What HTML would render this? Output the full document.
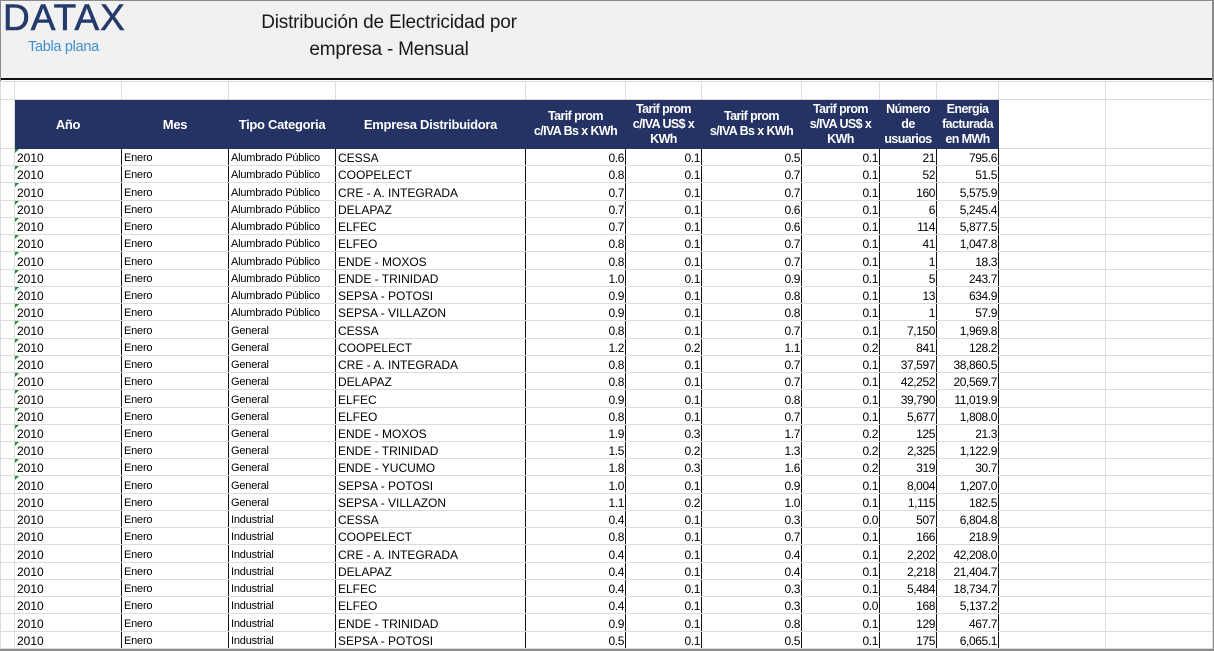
<!DOCTYPE html>
<html><head><meta charset="utf-8">
<style>
*{margin:0;padding:0;box-sizing:border-box}
body{width:1214px;height:651px;overflow:hidden;background:#fff;font-family:"Liberation Sans",sans-serif;position:relative}
#frame{position:absolute;left:0;top:0;width:1214px;height:651px;border:1px solid #8a8a8a;border-right:2px solid #8a8a8a;border-bottom:2px solid #8a8a8a}
#top{position:absolute;left:1px;top:1px;width:1211px;height:79px;background:#f1f1f1;border-bottom:2px solid #111}
.logo{position:absolute;left:2px;top:-4px;font-size:37px;font-weight:normal;color:#243a6b;letter-spacing:1px;font-family:"Liberation Sans",sans-serif;-webkit-text-stroke:0.6px #243a6b}
.sub{position:absolute;left:27px;top:38px;font-size:14.5px;color:#3f8fcf;letter-spacing:-0.3px}
.title{position:absolute;left:238px;top:8px;width:300px;text-align:center;font-size:19px;line-height:27px;color:#1a1a1a;letter-spacing:-0.2px}
table{position:absolute;left:0;top:81px;border-collapse:collapse;table-layout:fixed}
td{border:1px solid #dcdcdc;font-size:12px;white-space:nowrap;overflow:hidden;padding:0 2px;line-height:14px;vertical-align:bottom;height:17.24px}
tr.g td{height:18px}
tr.h td{height:49px;background:#243264;color:#fff;font-weight:bold;text-align:center;vertical-align:middle;line-height:15px;font-size:13px;border-color:#243264;letter-spacing:-0.3px}
tr.h td.first,tr.h td.blank{background:#fff;border-color:#dcdcdc}
tr.h td.nt{font-size:12.5px;letter-spacing:-0.6px}
td.d{border-left:1px solid #111;border-right:1px solid #111}
td.n{text-align:right;letter-spacing:-0.4px;padding-right:1px}
td.t{font-size:11px;letter-spacing:-0.2px}
tr.r td.y{position:relative}
tr.m td.y::before{content:"";position:absolute;left:0;top:0;border-top:4px solid #1e8b3a;border-right:4px solid transparent}
</style></head><body>
<div id="frame"></div>
<div id="top">
<div class="logo">DATAX</div>
<div class="sub">Tabla plana</div>
<div class="title">Distribución de Electricidad por<br>empresa - Mensual</div>
</div>
<table>
<colgroup><col style="width:14px"><col style="width:107px"><col style="width:107px"><col style="width:107px"><col style="width:190px"><col style="width:100px"><col style="width:76px"><col style="width:100px"><col style="width:78px"><col style="width:57px"><col style="width:62px"><col style="width:107px"><col style="width:107px"></colgroup>
<tr class="g"><td></td><td></td><td></td><td></td><td></td><td></td><td></td><td></td><td></td><td></td><td></td><td></td><td></td></tr>
<tr class="h"><td class="first"></td><td>Año</td><td>Mes</td><td>Tipo Categoria</td><td>Empresa Distribuidora</td><td class="nt">Tarif prom<br>c/IVA Bs x KWh</td><td class="nt">Tarif prom<br>c/IVA US$ x<br>KWh</td><td class="nt">Tarif prom<br>s/IVA Bs x KWh</td><td class="nt">Tarif prom<br>s/IVA US$ x<br>KWh</td><td class="nt">Número<br>de<br>usuarios</td><td class="nt">Energia<br>facturada<br>en MWh</td><td class="blank"></td><td class="blank"></td></tr>
<tr class="r m"><td></td><td class="d y">2010</td><td class="d t">Enero</td><td class="d t">Alumbrado Público</td><td class="d">CESSA</td><td class="d n">0.6</td><td class="d n">0.1</td><td class="d n">0.5</td><td class="d n">0.1</td><td class="d n">21</td><td class="d n">795.6</td><td></td><td></td></tr>
<tr class="r m"><td></td><td class="d y">2010</td><td class="d t">Enero</td><td class="d t">Alumbrado Público</td><td class="d">COOPELECT</td><td class="d n">0.8</td><td class="d n">0.1</td><td class="d n">0.7</td><td class="d n">0.1</td><td class="d n">52</td><td class="d n">51.5</td><td></td><td></td></tr>
<tr class="r m"><td></td><td class="d y">2010</td><td class="d t">Enero</td><td class="d t">Alumbrado Público</td><td class="d">CRE - A. INTEGRADA</td><td class="d n">0.7</td><td class="d n">0.1</td><td class="d n">0.7</td><td class="d n">0.1</td><td class="d n">160</td><td class="d n">5,575.9</td><td></td><td></td></tr>
<tr class="r m"><td></td><td class="d y">2010</td><td class="d t">Enero</td><td class="d t">Alumbrado Público</td><td class="d">DELAPAZ</td><td class="d n">0.7</td><td class="d n">0.1</td><td class="d n">0.6</td><td class="d n">0.1</td><td class="d n">6</td><td class="d n">5,245.4</td><td></td><td></td></tr>
<tr class="r m"><td></td><td class="d y">2010</td><td class="d t">Enero</td><td class="d t">Alumbrado Público</td><td class="d">ELFEC</td><td class="d n">0.7</td><td class="d n">0.1</td><td class="d n">0.6</td><td class="d n">0.1</td><td class="d n">114</td><td class="d n">5,877.5</td><td></td><td></td></tr>
<tr class="r m"><td></td><td class="d y">2010</td><td class="d t">Enero</td><td class="d t">Alumbrado Público</td><td class="d">ELFEO</td><td class="d n">0.8</td><td class="d n">0.1</td><td class="d n">0.7</td><td class="d n">0.1</td><td class="d n">41</td><td class="d n">1,047.8</td><td></td><td></td></tr>
<tr class="r m"><td></td><td class="d y">2010</td><td class="d t">Enero</td><td class="d t">Alumbrado Público</td><td class="d">ENDE - MOXOS</td><td class="d n">0.8</td><td class="d n">0.1</td><td class="d n">0.7</td><td class="d n">0.1</td><td class="d n">1</td><td class="d n">18.3</td><td></td><td></td></tr>
<tr class="r m"><td></td><td class="d y">2010</td><td class="d t">Enero</td><td class="d t">Alumbrado Público</td><td class="d">ENDE - TRINIDAD</td><td class="d n">1.0</td><td class="d n">0.1</td><td class="d n">0.9</td><td class="d n">0.1</td><td class="d n">5</td><td class="d n">243.7</td><td></td><td></td></tr>
<tr class="r m"><td></td><td class="d y">2010</td><td class="d t">Enero</td><td class="d t">Alumbrado Público</td><td class="d">SEPSA - POTOSI</td><td class="d n">0.9</td><td class="d n">0.1</td><td class="d n">0.8</td><td class="d n">0.1</td><td class="d n">13</td><td class="d n">634.9</td><td></td><td></td></tr>
<tr class="r m"><td></td><td class="d y">2010</td><td class="d t">Enero</td><td class="d t">Alumbrado Público</td><td class="d">SEPSA - VILLAZON</td><td class="d n">0.9</td><td class="d n">0.1</td><td class="d n">0.8</td><td class="d n">0.1</td><td class="d n">1</td><td class="d n">57.9</td><td></td><td></td></tr>
<tr class="r m"><td></td><td class="d y">2010</td><td class="d t">Enero</td><td class="d t">General</td><td class="d">CESSA</td><td class="d n">0.8</td><td class="d n">0.1</td><td class="d n">0.7</td><td class="d n">0.1</td><td class="d n">7,150</td><td class="d n">1,969.8</td><td></td><td></td></tr>
<tr class="r m"><td></td><td class="d y">2010</td><td class="d t">Enero</td><td class="d t">General</td><td class="d">COOPELECT</td><td class="d n">1.2</td><td class="d n">0.2</td><td class="d n">1.1</td><td class="d n">0.2</td><td class="d n">841</td><td class="d n">128.2</td><td></td><td></td></tr>
<tr class="r m"><td></td><td class="d y">2010</td><td class="d t">Enero</td><td class="d t">General</td><td class="d">CRE - A. INTEGRADA</td><td class="d n">0.8</td><td class="d n">0.1</td><td class="d n">0.7</td><td class="d n">0.1</td><td class="d n">37,597</td><td class="d n">38,860.5</td><td></td><td></td></tr>
<tr class="r m"><td></td><td class="d y">2010</td><td class="d t">Enero</td><td class="d t">General</td><td class="d">DELAPAZ</td><td class="d n">0.8</td><td class="d n">0.1</td><td class="d n">0.7</td><td class="d n">0.1</td><td class="d n">42,252</td><td class="d n">20,569.7</td><td></td><td></td></tr>
<tr class="r m"><td></td><td class="d y">2010</td><td class="d t">Enero</td><td class="d t">General</td><td class="d">ELFEC</td><td class="d n">0.9</td><td class="d n">0.1</td><td class="d n">0.8</td><td class="d n">0.1</td><td class="d n">39,790</td><td class="d n">11,019.9</td><td></td><td></td></tr>
<tr class="r m"><td></td><td class="d y">2010</td><td class="d t">Enero</td><td class="d t">General</td><td class="d">ELFEO</td><td class="d n">0.8</td><td class="d n">0.1</td><td class="d n">0.7</td><td class="d n">0.1</td><td class="d n">5,677</td><td class="d n">1,808.0</td><td></td><td></td></tr>
<tr class="r m"><td></td><td class="d y">2010</td><td class="d t">Enero</td><td class="d t">General</td><td class="d">ENDE - MOXOS</td><td class="d n">1.9</td><td class="d n">0.3</td><td class="d n">1.7</td><td class="d n">0.2</td><td class="d n">125</td><td class="d n">21.3</td><td></td><td></td></tr>
<tr class="r m"><td></td><td class="d y">2010</td><td class="d t">Enero</td><td class="d t">General</td><td class="d">ENDE - TRINIDAD</td><td class="d n">1.5</td><td class="d n">0.2</td><td class="d n">1.3</td><td class="d n">0.2</td><td class="d n">2,325</td><td class="d n">1,122.9</td><td></td><td></td></tr>
<tr class="r m"><td></td><td class="d y">2010</td><td class="d t">Enero</td><td class="d t">General</td><td class="d">ENDE - YUCUMO</td><td class="d n">1.8</td><td class="d n">0.3</td><td class="d n">1.6</td><td class="d n">0.2</td><td class="d n">319</td><td class="d n">30.7</td><td></td><td></td></tr>
<tr class="r m"><td></td><td class="d y">2010</td><td class="d t">Enero</td><td class="d t">General</td><td class="d">SEPSA - POTOSI</td><td class="d n">1.0</td><td class="d n">0.1</td><td class="d n">0.9</td><td class="d n">0.1</td><td class="d n">8,004</td><td class="d n">1,207.0</td><td></td><td></td></tr>
<tr class="r"><td></td><td class="d y">2010</td><td class="d t">Enero</td><td class="d t">General</td><td class="d">SEPSA - VILLAZON</td><td class="d n">1.1</td><td class="d n">0.2</td><td class="d n">1.0</td><td class="d n">0.1</td><td class="d n">1,115</td><td class="d n">182.5</td><td></td><td></td></tr>
<tr class="r"><td></td><td class="d y">2010</td><td class="d t">Enero</td><td class="d t">Industrial</td><td class="d">CESSA</td><td class="d n">0.4</td><td class="d n">0.1</td><td class="d n">0.3</td><td class="d n">0.0</td><td class="d n">507</td><td class="d n">6,804.8</td><td></td><td></td></tr>
<tr class="r"><td></td><td class="d y">2010</td><td class="d t">Enero</td><td class="d t">Industrial</td><td class="d">COOPELECT</td><td class="d n">0.8</td><td class="d n">0.1</td><td class="d n">0.7</td><td class="d n">0.1</td><td class="d n">166</td><td class="d n">218.9</td><td></td><td></td></tr>
<tr class="r"><td></td><td class="d y">2010</td><td class="d t">Enero</td><td class="d t">Industrial</td><td class="d">CRE - A. INTEGRADA</td><td class="d n">0.4</td><td class="d n">0.1</td><td class="d n">0.4</td><td class="d n">0.1</td><td class="d n">2,202</td><td class="d n">42,208.0</td><td></td><td></td></tr>
<tr class="r"><td></td><td class="d y">2010</td><td class="d t">Enero</td><td class="d t">Industrial</td><td class="d">DELAPAZ</td><td class="d n">0.4</td><td class="d n">0.1</td><td class="d n">0.4</td><td class="d n">0.1</td><td class="d n">2,218</td><td class="d n">21,404.7</td><td></td><td></td></tr>
<tr class="r"><td></td><td class="d y">2010</td><td class="d t">Enero</td><td class="d t">Industrial</td><td class="d">ELFEC</td><td class="d n">0.4</td><td class="d n">0.1</td><td class="d n">0.3</td><td class="d n">0.1</td><td class="d n">5,484</td><td class="d n">18,734.7</td><td></td><td></td></tr>
<tr class="r"><td></td><td class="d y">2010</td><td class="d t">Enero</td><td class="d t">Industrial</td><td class="d">ELFEO</td><td class="d n">0.4</td><td class="d n">0.1</td><td class="d n">0.3</td><td class="d n">0.0</td><td class="d n">168</td><td class="d n">5,137.2</td><td></td><td></td></tr>
<tr class="r"><td></td><td class="d y">2010</td><td class="d t">Enero</td><td class="d t">Industrial</td><td class="d">ENDE - TRINIDAD</td><td class="d n">0.9</td><td class="d n">0.1</td><td class="d n">0.8</td><td class="d n">0.1</td><td class="d n">129</td><td class="d n">467.7</td><td></td><td></td></tr>
<tr class="r"><td></td><td class="d y">2010</td><td class="d t">Enero</td><td class="d t">Industrial</td><td class="d">SEPSA - POTOSI</td><td class="d n">0.5</td><td class="d n">0.1</td><td class="d n">0.5</td><td class="d n">0.1</td><td class="d n">175</td><td class="d n">6,065.1</td><td></td><td></td></tr>
</table>
</body></html>
